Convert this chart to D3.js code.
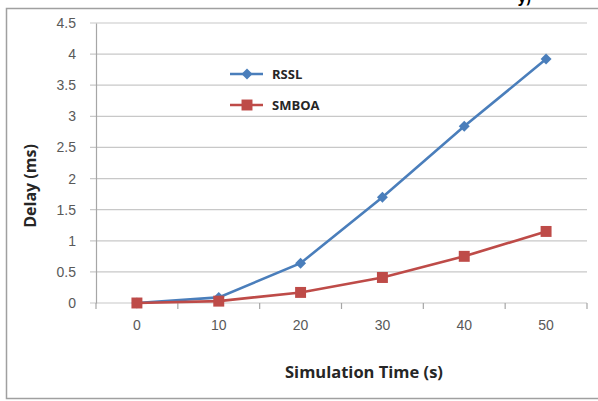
<!DOCTYPE html>
<html>
<head>
<meta charset="utf-8">
<script src="https://cdn.jsdelivr.net/npm/d3@7"></script>
<style>
  body { margin: 0; background: #fff; }
  svg { display: block; font-family: "Open Sans", "Liberation Sans", sans-serif; }
  .grid line { stroke: #c8c8c8; stroke-width: 1.2; }
  .tick text { fill: #595959; font-size: 14px; }
</style>
</head>
<body>
<script>
// chart data
var times = ["0", "10", "20", "30", "40", "50"];
var rssl = [0.0, 0.09, 0.64, 1.70, 2.84, 3.92];
var smboa = [0.0, 0.03, 0.17, 0.41, 0.75, 1.15];
var yTicks = [0, 0.5, 1, 1.5, 2, 2.5, 3, 3.5, 4, 4.5];

var width = 598, height = 401;
var margin = {left: 96, right: 11, top: 23, bottom: 98};

var svg = d3.select("body").append("svg")
    .attr("width", width)
    .attr("height", height);

// outer chart frame
svg.append("rect")
    .attr("x", 6.5).attr("y", 8.5)
    .attr("width", 600).attr("height", 390)
    .attr("fill", "none")
    .attr("stroke", "#a0a0a0")
    .attr("stroke-width", 1.5);

// cut off text above the frame
svg.append("text")
    .attr("x", 518).attr("y", 3)
    .attr("font-size", 14).attr("font-weight", "bold")
    .text("y)");

var x = d3.scaleBand()
    .domain(times)
    .range([margin.left, width - margin.right]);

var y = d3.scaleLinear()
    .domain([0, 4.5])
    .range([height - margin.bottom, margin.top]);

// horizontal gridlines
svg.append("g").attr("class", "grid")
    .selectAll("line")
    .data(yTicks)
    .enter().append("line")
    .attr("x1", margin.left - 6)
    .attr("x2", width - margin.right)
    .attr("y1", function(d){ return y(d); })
    .attr("y2", function(d){ return y(d); });

// y axis
var yAxis = svg.append("g")
    .attr("transform", "translate(" + margin.left + ",0)")
    .call(d3.axisLeft(y).tickValues(yTicks).tickSize(0).tickPadding(20)
        .tickFormat(function(d){ return d; }));
yAxis.select(".domain").attr("stroke", "#a6a6a6").attr("stroke-width", 1.2);

// x axis, ticks sit between categories
var xAxis = svg.append("g")
    .attr("transform", "translate(0," + y(0) + ")")
    .call(d3.axisBottom(x).tickSize(0).tickPadding(17));
xAxis.select(".domain").remove();
xAxis.selectAll(".between")
    .data(times.concat(["end"]))
    .enter().append("line")
    .attr("x1", function(d, i){ return margin.left + i * x.step(); })
    .attr("x2", function(d, i){ return margin.left + i * x.step(); })
    .attr("y1", 0).attr("y2", 6)
    .attr("stroke", "#a6a6a6").attr("stroke-width", 1.2);

// axis titles
svg.append("text")
    .attr("x", 364)
    .attr("y", 378)
    .attr("text-anchor", "middle")
    .attr("font-size", 16.5).attr("font-weight", "bold").attr("fill", "#262626")
    .text("Simulation Time (s)");

svg.append("text")
    .attr("transform", "translate(36,186) rotate(-90)")
    .attr("text-anchor", "middle")
    .attr("font-size", 16).attr("font-weight", "bold").attr("fill", "#262626")
    .text("Delay (ms)");

var line = d3.line()
    .x(function(d, i){ return x(times[i]) + x.bandwidth() / 2; })
    .y(function(d){ return y(d); });

var series = [
    {name: "RSSL", values: rssl, color: "#4a7ebb", shape: d3.symbolSquare, size: 60, rot: 45},
    {name: "SMBOA", values: smboa, color: "#be4b48", shape: d3.symbolSquare, size: 120, rot: 0}
];

series.forEach(function(s){
    svg.append("path")
        .datum(s.values)
        .attr("fill", "none")
        .attr("stroke", s.color)
        .attr("stroke-width", 2.6)
        .attr("d", line);
    svg.selectAll(".m-" + s.name)
        .data(s.values)
        .enter().append("path")
        .attr("transform", function(d, i){
            return "translate(" + (x(times[i]) + x.bandwidth() / 2) + "," + y(d) + ") rotate(" + s.rot + ")";
        })
        .attr("d", d3.symbol().type(s.shape).size(s.size))
        .attr("fill", s.color);
});

// legend
var legend = svg.selectAll(".legend")
    .data(series)
    .enter().append("g")
    .attr("transform", function(d, i){ return "translate(230," + (74 + i * 31) + ")"; });
legend.append("line")
    .attr("x1", 0).attr("x2", 33)
    .attr("stroke", function(d){ return d.color; })
    .attr("stroke-width", 2.6);
legend.append("path")
    .attr("transform", function(d){ return "translate(17,0) rotate(" + d.rot + ")"; })
    .attr("d", function(d){ return d3.symbol().type(d.shape).size(d.size)(); })
    .attr("fill", function(d){ return d.color; });
legend.append("text")
    .attr("x", 42).attr("y", 5)
    .attr("font-size", 13).attr("font-weight", "bold").attr("fill", "#262626")
    .text(function(d){ return d.name; });
</script>
</body>
</html>
